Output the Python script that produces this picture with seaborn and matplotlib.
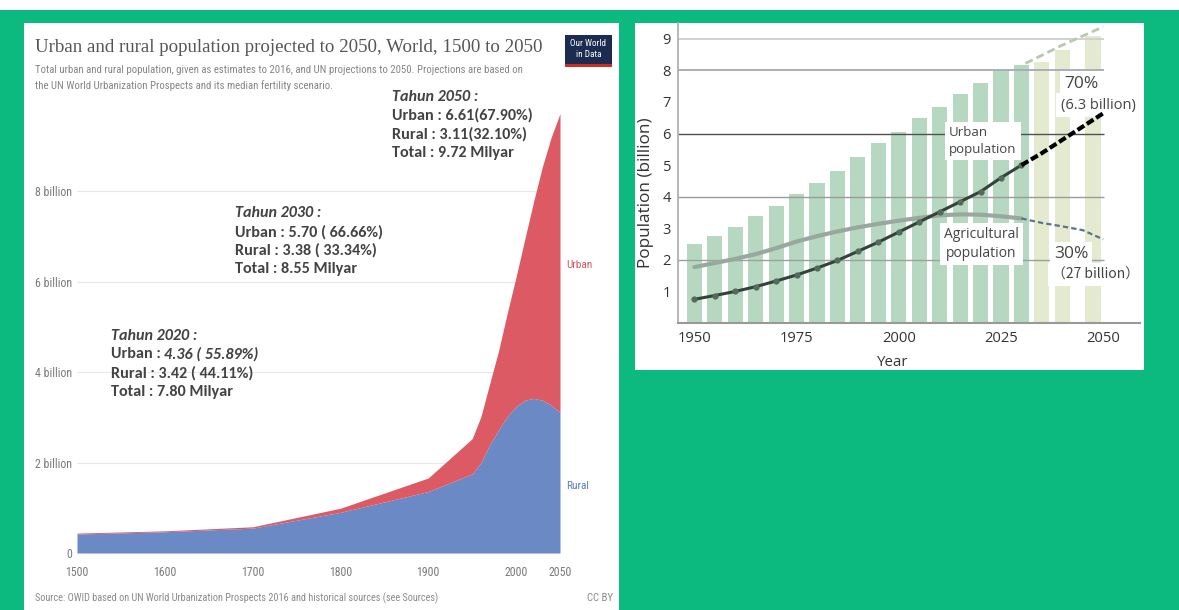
import matplotlib
matplotlib.use("Agg")
import matplotlib.pyplot as plt
from matplotlib import font_manager
from matplotlib.patches import Rectangle
import seaborn as sns

# ---------------- data: left chart (OWID) ----------------
owid_years = [1500, 1600, 1700, 1800, 1900, 1950, 1960, 1970, 1980, 1990,
              2000, 2010, 2020, 2030, 2040, 2050]
owid_rural = [0.42, 0.47, 0.55, 0.90, 1.36, 1.75, 2.00, 2.40, 2.72, 3.02,
              3.24, 3.38, 3.42, 3.38, 3.27, 3.11]
owid_urban = [0.02, 0.02, 0.03, 0.09, 0.30, 0.78, 1.02, 1.35, 1.75, 2.29,
              2.87, 3.57, 4.36, 5.17, 5.93, 6.61]
owid_yticks = [0, 2, 4, 6, 8]
owid_ytick_labels = ["0", "2 billion", "4 billion", "6 billion", "8 billion"]
owid_xticks = [1500, 1600, 1700, 1800, 1900, 2000, 2050]

owid_title = "Urban and rural population projected to 2050, World, 1500 to 2050"
owid_sub1 = ("Total urban and rural population, given as estimates to 2016, and UN "
             "projections to 2050. Projections are based on")
owid_sub2 = "the UN World Urbanization Prospects and its median fertility scenario."
owid_source = ("Source: OWID based on UN World Urbanization Prospects 2016 and "
               "historical sources (see Sources)")

ann_2050 = ["Tahun 2050 :", "Urban : 6.61(67.90%)", "Rural : 3.11(32.10%)",
            "Total : 9.72 Milyar"]
ann_2030 = ["Tahun 2030 :", "Urban : 5.70 ( 66.66%)", "Rural : 3.38 ( 33.34%)",
            "Total : 8.55 Milyar"]
ann_2020 = ["Tahun 2020 :", "Urban : ", "4.36 ( 55.89%)", "Rural : 3.42 ( 44.11%)",
            "Total : 7.80 Milyar"]

# ---------------- data: right chart ----------------
bar_years = [1950, 1955, 1960, 1965, 1970, 1975, 1980, 1985, 1990, 1995,
             2000, 2005, 2010, 2015, 2020, 2025, 2030]
bar_total = [2.50, 2.75, 3.03, 3.38, 3.70, 4.08, 4.44, 4.82, 5.26, 5.69,
             6.05, 6.49, 6.85, 7.25, 7.60, 8.00, 8.18]
proj_bar_years = [2035, 2040, 2047.5]
proj_bar_total = [8.27, 8.66, 9.08]
urban_pop = [0.75, 0.87, 1.00, 1.15, 1.33, 1.52, 1.74, 1.98, 2.27, 2.56,
             2.88, 3.20, 3.52, 3.84, 4.16, 4.60, 5.00]
agri_pop = [1.77, 1.90, 2.03, 2.18, 2.37, 2.58, 2.75, 2.90, 3.03, 3.14,
            3.24, 3.33, 3.41, 3.44, 3.43, 3.38, 3.31]
proj_years = [2030, 2035, 2040, 2045, 2050]
urban_proj = [5.00, 5.38, 5.80, 6.22, 6.64]
agri_proj = [3.31, 3.17, 3.06, 2.94, 2.65]
total_proj_years = [2031, 2040, 2050]
total_proj = [8.22, 8.80, 9.38]
right_yticks = [1, 2, 3, 4, 5, 6, 7, 8, 9]
right_xticks = [1950, 1975, 2000, 2025, 2050]

# ---------------- style ----------------
W, H = 1179, 610
GREEN = "#0cb97f"
RED = "#dc5a64"
BLUE = "#6b89c4"
BAR = "#b6d8c0"
BAR2 = "#e3eacf"

sns.set_style("white")
names = {f.name for f in font_manager.fontManager.ttflist}


def pick(*cands):
    for c in cands:
        if c in names:
            return c
    return "DejaVu Sans"


NARROW = pick("Liberation Sans Narrow", "Roboto Condensed", "Liberation Sans")
SERIF = pick("Liberation Serif", "DejaVu Serif")
CALI = pick("Carlito", "Lato", "Open Sans")
SANS = pick("Open Sans", "Noto Sans", "DejaVu Sans")
CJK = pick("Noto Sans CJK JP", "Noto Sans CJK SC")
plt.rcParams["font.family"] = [SANS, "DejaVu Sans"]

fig = plt.figure(figsize=(W / 100, H / 100), dpi=100, facecolor=GREEN)
R = fig.canvas.get_renderer()


def fx(x):
    return x / W


def fy(y):
    return 1 - y / H


def rect(x0, y0, x1, y1, color, z=-1):
    fig.add_artist(Rectangle((fx(x0), fy(y1)), (x1 - x0) / W, (y1 - y0) / H,
                             transform=fig.transFigure, facecolor=color,
                             edgecolor="none", zorder=z))


def fit_size(s, target, **kw):
    t = fig.text(0, 0, s, fontsize=10, **kw)
    w = t.get_window_extent(R).width
    t.remove()
    return 10 * target / w


def ptext(x, y, s, **kw):
    kw.setdefault("va", "center")
    return fig.text(fx(x), fy(y), s, **kw)


# backgrounds
rect(0, 0, W, 10, "white")
rect(24, 23, 619, H, "white")
rect(635, 23, 1144, 370, "white")

# ================= LEFT: OWID stacked area =================
ax1 = fig.add_axes([fx(77), fy(553), (560 - 77) / W, (553 - 110) / H])
ax1.set_facecolor("none")
owid_total = [r + u for r, u in zip(owid_rural, owid_urban)]
ax1.fill_between(owid_years, 0, owid_rural, color=BLUE, lw=0, zorder=2)
ax1.fill_between(owid_years, owid_rural, owid_total, color=RED, lw=0, zorder=2)
ax1.set_xlim(1500, 2050)
ax1.set_ylim(0, 9.8)
ax1.set_yticks(owid_yticks, owid_ytick_labels)
ax1.set_xticks(owid_xticks, [str(v) for v in owid_xticks])
for s in ax1.spines.values():
    s.set_visible(False)
ax1.grid(axis="y", color="#e8e8e8", lw=0.8)
ax1.grid(axis="x", visible=False)
ax1.set_axisbelow(True)
tick_fs = fit_size("8 billion", 37, family=NARROW)
ax1.tick_params(axis="y", length=0, labelcolor="#7b7b7b", labelsize=tick_fs, pad=3.6)
ax1.tick_params(axis="x", length=0, labelcolor="#7b7b7b", labelsize=tick_fs, pad=9)
for lab in ax1.get_xticklabels() + ax1.get_yticklabels():
    lab.set_family(NARROW)

# title / subtitle / source
ptext(35, 47, owid_title, family=SERIF, color="#555555",
      fontsize=fit_size(owid_title, 505, family=SERIF))
sub_fs = fit_size(owid_sub1, 482, family=NARROW)
ptext(35, 70, owid_sub1, family=NARROW, color="#858585", fontsize=sub_fs)
ptext(35, 86, owid_sub2, family=NARROW, color="#858585", fontsize=sub_fs)
ptext(35, 598, owid_source, family=NARROW, color="#8a8a8a",
      fontsize=fit_size(owid_source, 401, family=NARROW))
ptext(613, 598, "CC BY", family=NARROW, color="#8a8a8a", ha="right", fontsize=sub_fs)

# logo
rect(565, 35, 612, 67, "#1b2c50", z=2)
rect(565, 64, 612, 67, "#cf2a24", z=2.1)
ptext(588.5, 49, "Our World\nin Data", family=NARROW, color="white", ha="center",
      fontsize=fit_size("Our World", 36, family=NARROW), linespacing=1.2, zorder=3)

# series labels
ptext(566, 265, "Urban", family=NARROW, color="#d2555e", fontsize=tick_fs * 0.95)
ptext(566, 486, "Rural", family=NARROW, color="#5b7cbf", fontsize=tick_fs * 0.95)

# annotations
ann_fs = fit_size("Total : 9.72 Milyar", 122, family=CALI, weight="bold")
ANN_C = "#434343"
akw = dict(family=CALI, weight="bold", color=ANN_C, fontsize=ann_fs)
for x0, ys, lines in [(392, [97, 115, 134, 153], ann_2050),
                      (235, [213, 232, 250, 269], ann_2030)]:
    ptext(x0, ys[0], lines[0], style="italic", **akw)
    for yy, s in zip(ys[1:], lines[1:]):
        ptext(x0, yy, s, **akw)

ys20 = [336, 354, 373, 392]
ptext(111, ys20[0], ann_2020[0], style="italic", **akw)
t_u = ptext(111, ys20[1], ann_2020[1], **akw)
bb = t_u.get_window_extent(R)
fig.text(bb.x1 / W, fy(ys20[1]), ann_2020[2], va="center", style="italic", **akw)
ptext(111, ys20[2], ann_2020[3], **akw)
ptext(111, ys20[3], ann_2020[4], **akw)

# ================= RIGHT: bars + lines =================
ax2 = fig.add_axes([fx(678), fy(323), (1140 - 678) / W, (323 - 23) / H])
ax2.set_facecolor("none")
sns.barplot(x=bar_years, y=bar_total, native_scale=True, color=BAR, saturation=1,
            width=0.74, linewidth=0, errorbar=None, ax=ax2, zorder=1)
sns.barplot(x=proj_bar_years, y=proj_bar_total, native_scale=True, color=BAR2,
            saturation=1, width=0.74, linewidth=0, errorbar=None, ax=ax2, zorder=1)

grid_levels = [9, 8, 6, 4, 2]
grid_colors = ["#cfcfcf", "#a4a9b6", "#505050", "#9a9a9a", "#9aa0a0"]
grid_widths = [1.3, 1.3, 1.0, 1.0, 1.0]
for lv, c, lw in zip(grid_levels, grid_colors, grid_widths):
    ax2.hlines(lv, 1946, 2050.3, color=c, lw=lw, zorder=1.5)

sns.lineplot(x=bar_years, y=agri_pop, color="#98a89e", lw=3, ax=ax2, zorder=4,
             solid_capstyle="round")
sns.lineplot(x=proj_years, y=agri_proj, color="#5d7482", lw=1.6,
             linestyle=(0, (2.4, 1.4)), ax=ax2, zorder=4)
sns.lineplot(x=bar_years, y=urban_pop, color="#33433a", lw=2.2, marker="o",
             markersize=4.5, markerfacecolor="#56695e", markeredgewidth=0,
             ax=ax2, zorder=5)
sns.lineplot(x=proj_years, y=urban_proj, color="black", lw=3,
             linestyle=(0, (1.9, 0.75)), ax=ax2, zorder=5)
sns.lineplot(x=total_proj_years, y=total_proj, color="#b9c9ad", lw=2,
             linestyle=(0, (2.9, 1.5)), ax=ax2, zorder=4)

ax2.set_xlim(1946, 2059)
ax2.set_ylim(0, 9.5)
ax2.set_yticks(right_yticks, [str(v) for v in right_yticks])
ax2.set_xticks(right_xticks, [str(v) for v in right_xticks])
ax2.spines["top"].set_visible(False)
ax2.spines["right"].set_visible(False)
ax2.spines["left"].set_color("#aaaaaa")
ax2.spines["left"].set_linewidth(1.2)
ax2.spines["bottom"].set_color("#999999")
ax2.spines["bottom"].set_linewidth(1.5)
r_fs = fit_size("1950", 34, family=SANS)
ax2.tick_params(axis="y", direction="in", length=4, width=1, color="#999999",
                labelsize=r_fs, labelcolor="#333333", pad=5)
ax2.tick_params(axis="x", direction="in", length=8.5, width=1.5, color="#444444",
                labelsize=r_fs, labelcolor="#333333", pad=6)
ax2.set_ylabel("Population (billion)",
               fontsize=fit_size("Population (billion)", 150, family=SANS),
               color="#333333")
ax2.yaxis.set_label_coords(-0.052, 0.433)
ax2.set_xlabel("Year", fontsize=r_fs * 1.02, color="#333333")
ax2.xaxis.set_label_coords(0.465, -0.107)

box = dict(facecolor="white", edgecolor="none", pad=3)
ax2.text(2012.3, 5.76, "Urban\npopulation", ha="left", va="center", fontsize=9.5,
         color="#444444", linespacing=1.35, bbox=box, zorder=3)
ax2.text(2020.2, 2.5, "Agricultural\npopulation", ha="center", va="center",
         fontsize=10, color="#444444", linespacing=1.3, bbox=box, zorder=3)
ax2.text(2040.4, 7.58, "70%", ha="left", va="center", fontsize=12.5,
         color="#444444", bbox=box, zorder=3)
ax2.text(2039.6, 6.9, "(6.3 billion)", ha="left", va="center", fontsize=10.5,
         color="#444444", bbox=box, zorder=3)
ax2.text(2037.9, 2.18, "30%", ha="left", va="center", fontsize=12.5,
         color="#444444", bbox=box, zorder=3)
ax2.text(2037.4, 1.54, "（27 billion）", ha="left", va="center", fontsize=10,
         color="#444444", family=[CJK, "DejaVu Sans"], bbox=box, zorder=3)

fig.savefig("out.png", dpi=100, facecolor=GREEN)
